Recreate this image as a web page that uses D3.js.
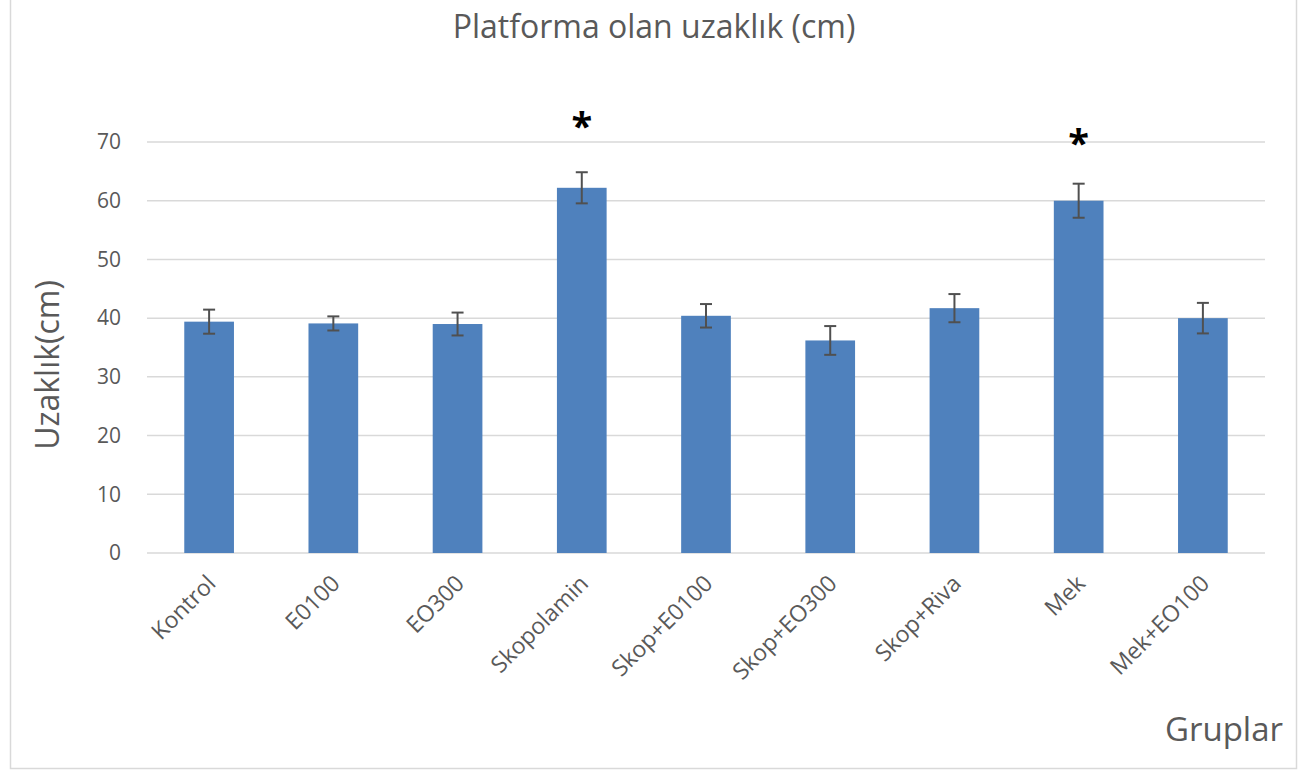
<!DOCTYPE html>
<html>
<head>
<meta charset="utf-8">
<script src="https://cdn.jsdelivr.net/npm/d3@7"></script>
<style>
  body { margin: 0; background: #fff; }
  text { font-family: "Open Sans", "Noto Sans", sans-serif; fill: #595959; }
</style>
</head>
<body>
<svg width="1309" height="773"></svg>
<script>
var groups = ["Kontrol", "E0100", "EO300", "Skopolamin", "Skop+E0100", "Skop+EO300", "Skop+Riva", "Mek", "Mek+EO100"];
var means = [39.4, 39.1, 39.0, 62.2, 40.4, 36.2, 41.7, 60.0, 40.0];
var errors = [2.05, 1.2, 1.95, 2.65, 2.0, 2.45, 2.4, 2.9, 2.6];
var yTicks = [0, 10, 20, 30, 40, 50, 60, 70];
// significance marks: group + y value where the star sits
var starGroups = ["Skopolamin", "Mek"];
var starValues = [73.4, 70.5];

var svg = d3.select("svg");

// chart border
svg.append("rect")
  .attr("x", 10.5).attr("y", -1)
  .attr("width", 1286).attr("height", 769.5)
  .attr("fill", "none")
  .attr("stroke", "#d9d9d9")
  .attr("stroke-width", 1.5);

var plotLeft = 147, plotRight = 1265, plotTop = 142, plotBottom = 553;

var xScale = d3.scaleBand().domain(groups).range([plotLeft, plotRight]).paddingInner(0.6).paddingOuter(0.3);
var yScale = d3.scaleLinear().domain([0, 70]).range([plotBottom, plotTop]);

// gridlines
svg.append("g")
  .selectAll("line")
  .data(yTicks)
  .enter()
  .append("line")
  .attr("x1", plotLeft).attr("x2", plotRight)
  .attr("y1", function(d) { return yScale(d); })
  .attr("y2", function(d) { return yScale(d); })
  .attr("stroke", "#d9d9d9")
  .attr("stroke-width", 1.5);

// y axis labels
var yAxis = svg.append("g")
  .attr("transform", "translate(" + plotLeft + ",0)")
  .call(d3.axisLeft(yScale).tickValues(yTicks).tickSize(0).tickPadding(26));
yAxis.select(".domain").remove();
yAxis.selectAll("text")
  .style("font-size", "21px")
  .style("fill", "#595959")
  .style("font-family", "'Open Sans', sans-serif");

// bars
svg.append("g")
  .selectAll("rect")
  .data(groups)
  .enter()
  .append("rect")
  .attr("x", function(d) { return xScale(d); })
  .attr("y", function(d, i) { return yScale(means[i]); })
  .attr("width", xScale.bandwidth())
  .attr("height", function(d, i) { return yScale(0) - yScale(means[i]); })
  .attr("fill", "#4f81bd");

// error bars
var eb = svg.append("g")
  .selectAll("g")
  .data(groups)
  .enter()
  .append("g")
  .attr("stroke", "#505050")
  .attr("stroke-width", 2);

eb.append("line")
  .attr("x1", function(d) { return xScale(d) + xScale.bandwidth() / 2; })
  .attr("x2", function(d) { return xScale(d) + xScale.bandwidth() / 2; })
  .attr("y1", function(d, i) { return yScale(means[i] + errors[i]); })
  .attr("y2", function(d, i) { return yScale(means[i] - errors[i]); });

eb.append("line")
  .attr("x1", function(d) { return xScale(d) + xScale.bandwidth() / 2 - 6; })
  .attr("x2", function(d) { return xScale(d) + xScale.bandwidth() / 2 + 6; })
  .attr("y1", function(d, i) { return yScale(means[i] + errors[i]); })
  .attr("y2", function(d, i) { return yScale(means[i] + errors[i]); });

eb.append("line")
  .attr("x1", function(d) { return xScale(d) + xScale.bandwidth() / 2 - 6; })
  .attr("x2", function(d) { return xScale(d) + xScale.bandwidth() / 2 + 6; })
  .attr("y1", function(d, i) { return yScale(means[i] - errors[i]); })
  .attr("y2", function(d, i) { return yScale(means[i] - errors[i]); });

// x axis labels
var xAxis = svg.append("g")
  .attr("transform", "translate(0," + plotBottom + ")")
  .call(d3.axisBottom(xScale).tickSize(0).tickPadding(0));
xAxis.select(".domain").remove();
xAxis.selectAll("text")
  .attr("text-anchor", "end")
  .attr("dy", null)
  .attr("y", 0)
  .attr("transform", "translate(8,32) rotate(-45)")
  .style("font-size", "23px")
  .style("fill", "#595959")
  .style("font-family", "'Open Sans', sans-serif");

// stars
svg.append("g")
  .selectAll("text")
  .data(starGroups)
  .enter()
  .append("text")
  .attr("x", function(d) { return xScale(d) + xScale.bandwidth() / 2; })
  .attr("y", function(d, i) { return yScale(starValues[i]) + 18; })
  .attr("text-anchor", "middle")
  .style("font-size", "38px")
  .style("font-weight", "bold")
  .style("fill", "#000")
  .text("*");

// titles
svg.append("text")
  .attr("x", 654)
  .attr("y", 38)
  .attr("text-anchor", "middle")
  .style("font-size", "32px")
  .text("Platforma olan uzaklık (cm)");

svg.append("text")
  .attr("transform", "translate(59,365) rotate(-90)")
  .attr("text-anchor", "middle")
  .style("font-size", "32px")
  .text("Uzaklık(cm)");

svg.append("text")
  .attr("x", 1283)
  .attr("y", 741)
  .attr("text-anchor", "end")
  .style("font-size", "33px")
  .text("Gruplar");
</script>
</body>
</html>
